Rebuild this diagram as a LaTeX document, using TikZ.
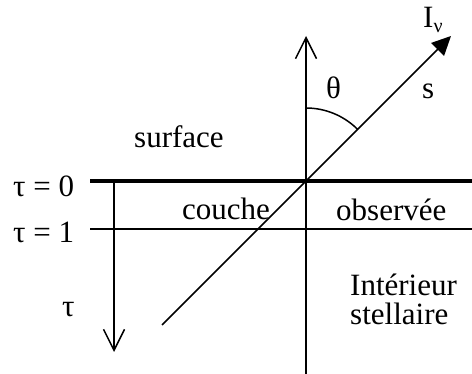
\documentclass[tikz,border=0pt]{standalone}
\usepackage{fontspec}
\setmainfont{Liberation Serif}
\usetikzlibrary{arrows.meta}
\begin{document}
\begin{tikzpicture}[x=1pt,y=-1pt,
  thinline/.style={line width=1.5pt},
  thickline/.style={line width=4pt},
  lbl/.style={anchor=base west,inner sep=0pt,font=\fontsize{31}{31}\selectfont},
  openhead/.style={-{Straight Barb[length=21pt,width=21pt,line width=1.5pt]}},
  fillhead/.style={-{Triangle[length=19pt,width=18pt]}}]
\useasboundingbox (0,0) rectangle (472,374);
% coordinates
\coordinate (O) at (306,181);
\coordinate (L0) at (90,181);
\coordinate (R0) at (472,181);
\coordinate (L1) at (90,229);
\coordinate (R1) at (472,229);
\coordinate (Vtop) at (306,36);
\coordinate (Vbot) at (306,374);
\coordinate (Ttop) at (114,181);
\coordinate (Tbot) at (114,352);
\coordinate (Dstart) at (162,325);
\coordinate (Dend) at (451,36);
\coordinate (A) at (306,108);
% lines
\draw[thickline] (L0) -- (R0);
\draw[thinline] (L1) -- (R1);
\draw[thinline,openhead] (Vbot) -- (Vtop);
\draw[thinline,openhead] (Ttop) -- (Tbot);
\draw[thinline,fillhead] (Dstart) -- (Dend);
\draw[thinline] (A) arc[start angle=90,end angle=45,radius=73pt];
% labels
\node[lbl] (surf) at (134,148) {surface};
\node[lbl] (t0) at (13,197) {τ = 0};
\node[lbl] (t1) at (13,243) {τ = 1};
\node[lbl] (tau) at (62,317) {τ};
\node[lbl] (couche) at (182,220) {couche};
\node[lbl] (obs) at (336,221) {observée};
\node[lbl] (theta) at (326,99) {θ};
\node[lbl] (s) at (422,99) {s};
\node[lbl] (Iv) at (423,28) {I\raisebox{-0.15em}{\fontsize{20}{20}\selectfont ν}};
\node[lbl] (int) at (350,296) {Intérieur};
\node[lbl] (stel) at (350,325) {stellaire};
\end{tikzpicture}
\end{document}
